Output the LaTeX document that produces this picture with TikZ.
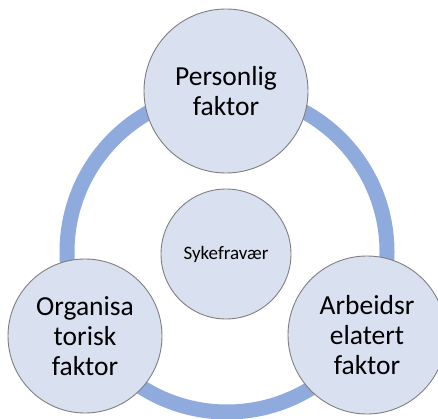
\documentclass[tikz,border=0pt]{standalone}
\usepackage{fontspec}
\setmainfont{Carlito}
\definecolor{ringblue}{HTML}{8FAADC}
\definecolor{circfill}{HTML}{D9E0F0}
\definecolor{circline}{HTML}{7F7F7F}
\begin{document}
\begin{tikzpicture}[x=1pt,y=-1pt,
  bubble/.style={circle,draw=circline,line width=0.9pt,fill=circfill,inner sep=0pt,align=center,
    font=\fontsize{27.5}{30}\selectfont,text=black},
  hub/.style={bubble,font=\fontsize{19}{22}\selectfont}]
\useasboundingbox (0,0) rectangle (438,419);
\clip (0,0) rectangle (438,419);
\coordinate (c) at (227,252);
\draw[ringblue,line width=15pt] (c) circle[radius=160];
\node[hub,minimum size=130pt] (hubn) at (226,254) {Sykefravær};
\node[bubble,minimum size=164pt] (top) at (226,91) {Personlig\\faktor};
\node[bubble,minimum size=154pt] (left) at (85,336) {Organisa\\torisk\\faktor};
\node[bubble,minimum size=158pt] (right) at (367,335) {Arbeidsr\\elatert\\faktor};
\end{tikzpicture}
\end{document}
